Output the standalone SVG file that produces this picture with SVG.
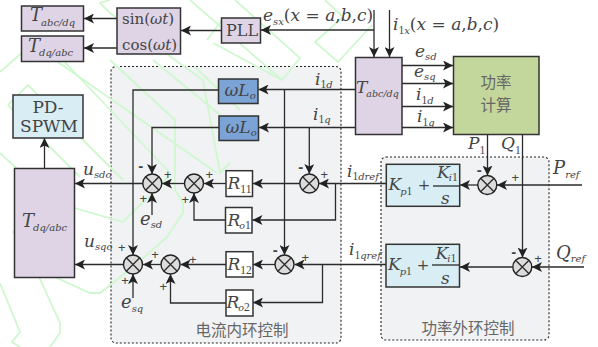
<svg xmlns="http://www.w3.org/2000/svg" width="598" height="347" viewBox="0 0 598 347">
<style>
text{font-family:"DejaVu Serif","Liberation Serif",serif;fill:#444;font-size:16px}
.m{font-style:italic;font-size:17px}
.f{font-size:18px}
.n{font-style:normal}
.s{font-size:10px;font-style:italic}
.d{font-size:11.500px;font-style:normal;font-family:"Liberation Serif",serif}
.p{font-size:13px;font-family:"Liberation Sans",sans-serif;text-anchor:middle}
.h{font-size:15px;font-weight:bold;font-family:"Liberation Sans",sans-serif;text-anchor:middle}
.c{font-family:"Noto Sans CJK SC",sans-serif;fill:#666;font-size:15.500px;text-anchor:middle}
.b{stroke:#333;stroke-width:1.500}
.pu{fill:#ded4e6}.bl{fill:#7ba3d6}.cy{fill:#d8edf4}.gr{fill:#c3d69b}.wh{fill:#fff}
.z{fill:#f1f2f4;stroke:#222;stroke-width:1.100;stroke-dasharray:2 2}
.l{fill:none;stroke:#2b2b2b;stroke-width:1.300}
.sum{fill:#dcdcdc;stroke:#222;stroke-width:1.400}
.wm{fill:none;stroke:#cff8cf;stroke-width:1.800}
</style>
<defs>
<marker id="a" markerUnits="userSpaceOnUse" markerWidth="11" markerHeight="10" refX="10" refY="5" orient="auto"><path d="M0 0L10 5L0 10L2.500 5Z" fill="#222"/></marker>
<g id="x"><circle class="sum" r="9.500"/><path class="l" d="M-6.700 -6.700L6.700 6.700M-6.700 6.700L6.700 -6.700"/></g>
</defs>
<g id="zones">
<rect class="z" x="111" y="66.500" width="230" height="276.500" rx="5"/>
<rect class="z" x="381" y="157" width="168" height="183" rx="5"/>
</g>
<g id="watermark">
<path class="wm" d="M0 72L25 50M60 57L170 173"/>
<path class="wm" d="M110 0L100 3L110 13L203 80L220 173L230 163"/>
<path class="wm" d="M190 0L282 80L300 58L235 0"/>
<path class="wm" d="M207 40L222 20M213 43L282 80"/>
<path class="wm" d="M372 25L338 62L315 42L343 17L325 0"/>
<path class="wm" d="M55 60L217 173"/>
<path class="wm" d="M110 60L175 120L175 190L183 203L183 213L167 237L133 267L100 293L90 293L35 268L60 323L60 333L50 347"/>
<path class="wm" d="M8 105L28 85L123 180M8 105L80 177"/>
<path class="wm" d="M153 60L230 123M195 67L240 110"/>
<path class="wm" d="M0 153L43 193M43 207L13 232L22 243L43 230M47 200L123 222L170 175"/>
<path class="wm" d="M0 283L20 332L12 342L20 347"/>
</g>
<g id="connectors">
<path class="l" marker-end="url(#a)" d="M117 18.500H84"/>
<path class="l" marker-end="url(#a)" d="M117 48H84"/>
<path class="l" marker-end="url(#a)" d="M221.500 30.500H181"/>
<path class="l" marker-end="url(#a)" d="M374 30H261"/>
<path class="l" marker-end="url(#a)" d="M374 10V57"/>
<path class="l" marker-end="url(#a)" d="M389.500 10V57"/>
<path class="l" marker-end="url(#a)" d="M402 65.500H453"/>
<path class="l" marker-end="url(#a)" d="M402 83.500H453"/>
<path class="l" marker-end="url(#a)" d="M402 106.500H453"/>
<path class="l" marker-end="url(#a)" d="M402 127.500H453"/>
<path class="l" marker-end="url(#a)" d="M355.500 89.500H258.500"/>
<path class="l" marker-end="url(#a)" d="M355.500 127.500H259"/>
<path class="l" marker-end="url(#a)" d="M218.500 90H133V255"/>
<path class="l" marker-end="url(#a)" d="M219 127.500H152V174"/>
<path class="l" marker-end="url(#a)" d="M284.500 90V255"/>
<path class="l" marker-end="url(#a)" d="M309.300 127.500V174"/>
<path class="l" marker-end="url(#a)" d="M44.500 168V138"/>
<path class="l" marker-end="url(#a)" d="M143 183.500H75"/>
<path class="l" marker-end="url(#a)" d="M123.500 264.500H75"/>
<path class="l" marker-end="url(#a)" d="M152 215V193"/>
<path class="l" marker-end="url(#a)" d="M133 298V274"/>
<path class="l" marker-end="url(#a)" d="M184.500 183.500H162"/>
<path class="l" marker-end="url(#a)" d="M226 183.500H204"/>
<path class="l" marker-end="url(#a)" d="M225.500 220H194V193"/>
<path class="l" marker-end="url(#a)" d="M299.800 183.500H253"/>
<path class="l" marker-end="url(#a)" d="M386 183.500H319"/>
<path class="l" marker-end="url(#a)" d="M335.500 183.500V220H252.500"/>
<path class="l" marker-end="url(#a)" d="M161 264.500H143"/>
<path class="l" marker-end="url(#a)" d="M226 264.500H180.500"/>
<path class="l" marker-end="url(#a)" d="M226 303H170.500V274"/>
<path class="l" marker-end="url(#a)" d="M275 264.500H253"/>
<path class="l" marker-end="url(#a)" d="M386 264.500H294.500"/>
<path class="l" marker-end="url(#a)" d="M322.500 264.500V302.500H253"/>
<path class="l" marker-end="url(#a)" d="M487.500 134.500V175.500"/>
<path class="l" marker-end="url(#a)" d="M522.500 134.500V257.500"/>
<path class="l" marker-end="url(#a)" d="M582 185H497"/>
<path class="l" marker-end="url(#a)" d="M478 185H460"/>
<path class="l" marker-end="url(#a)" d="M584 267H532"/>
<path class="l" marker-end="url(#a)" d="M512.500 267H460"/>
</g>
<g id="n1"><rect class="b pu" x="21.500" y="6" width="62" height="25"/><text class="m f" x="30" y="21">T<tspan class="s" dy="5" dx="-1">abc/dq</tspan></text></g>
<g id="n2"><rect class="b pu" x="21.500" y="36" width="62" height="25.500"/><text class="m f" x="28" y="52">T<tspan class="s" dy="4" dx="-1">dq/abc</tspan></text></g>
<g id="n3"><rect class="b pu" x="117" y="8" width="63.500" height="46"/><text x="122" y="24" style="font-size:15px">sin(<tspan class="m" style="font-size:15px">ωt</tspan>)</text><text x="122" y="50" style="font-size:15px">cos(<tspan class="m" style="font-size:15px">ωt</tspan>)</text></g>
<g id="n4"><rect class="b pu" x="221.500" y="18" width="39" height="25"/><text x="226" y="36">PLL</text></g>
<g id="n5"><rect class="b pu" x="355.500" y="57.500" width="46.500" height="77"/><text class="m" x="356" y="92.500">T<tspan class="s" dy="4.500" dx="-1" style="font-size:9.500px">abc/dq</tspan></text></g>
<g id="n6"><rect class="b gr" x="453.500" y="56.500" width="85.500" height="78"/><text class="c" x="496" y="88">功率</text><text class="c" x="496" y="111">计算</text></g>
<g id="n7"><rect class="b bl" x="218.500" y="79" width="39.500" height="24.500"/><text class="m" x="224.500" y="95.500">ωL<tspan class="s" dy="3">o</tspan></text></g>
<g id="n8"><rect class="b bl" x="219" y="116" width="39.500" height="24.500"/><text class="m" x="225.500" y="132.500">ωL<tspan class="s" dy="3">o</tspan></text></g>
<g id="n9"><rect class="b cy" x="13" y="95" width="70" height="43"/><text x="48" y="113" text-anchor="middle" style="font-size:17px">PD-</text><text x="49" y="132" text-anchor="middle" style="font-size:17px">SPWM</text></g>
<g id="n10"><rect class="b pu" x="14.500" y="168.500" width="60" height="109"/><text class="m f" x="22" y="227">T<tspan class="s" dy="4" dx="-1">dq/abc</tspan></text></g>
<g id="n11"><rect class="b wh" x="226" y="170.700" width="26.500" height="25.800"/><text class="m" x="227.500" y="188.500">R<tspan class="d" dy="4">11</tspan></text></g>
<g id="n12"><rect class="b wh" x="225.500" y="207.500" width="26.500" height="25.500"/><text class="m" x="227.500" y="225.500">R<tspan class="s" dy="3" dx="-1" style="font-size:9.500px">o</tspan><tspan class="d">1</tspan></text></g>
<g id="n13"><rect class="b wh" x="226" y="251.700" width="27" height="25.300"/><text class="m" x="227.500" y="269.500">R<tspan class="d" dy="4">12</tspan></text></g>
<g id="n14"><rect class="b wh" x="226" y="290" width="27" height="26"/><text class="m" x="226.500" y="308">R<tspan class="s" dy="3" dx="-1" style="font-size:9.500px">o</tspan><tspan class="d">2</tspan></text></g>
<g id="n15"><rect class="b cy" x="386.300" y="164.300" width="73.400" height="42"/><text class="m" x="388.500" y="190">K<tspan class="s" dy="5" dx="-1">p</tspan><tspan class="d">1</tspan></text><text x="424" y="190" text-anchor="middle" style="font-size:15px">+</text><text class="m" x="437" y="178">K<tspan class="s" dy="3" dx="-1">i</tspan><tspan class="d">1</tspan></text><text class="m" x="441" y="204">s</text><path class="l" d="M433 186H460"/></g>
<g id="n16"><rect class="b cy" x="386" y="244.300" width="73.500" height="42.700"/><text class="m" x="388" y="270">K<tspan class="s" dy="5" dx="-1">p</tspan><tspan class="d">1</tspan></text><text x="423" y="270" text-anchor="middle" style="font-size:15px">+</text><text class="m" x="435.500" y="259">K<tspan class="s" dy="3" dx="-1">i</tspan><tspan class="d">1</tspan></text><text class="m" x="441" y="284">s</text><path class="l" d="M432 265H459"/></g>
<g id="s1"><use href="#x" x="152.300" y="183.500"/></g>
<g id="s2"><use href="#x" x="194" y="183.500"/></g>
<g id="s3"><use href="#x" x="309.300" y="183.500"/></g>
<g id="s4"><use href="#x" x="133" y="264.500"/></g>
<g id="s5"><use href="#x" x="170.500" y="264.500"/></g>
<g id="s6"><use href="#x" x="284.500" y="264.500"/></g>
<g id="s7"><use href="#x" x="487.300" y="185"/></g>
<g id="s8"><use href="#x" x="522.300" y="267"/></g>
<g id="labels">
<text class="m" x="263" y="21">e<tspan class="s" dy="4">sx</tspan><tspan dy="-4" class="n">(</tspan>x<tspan class="n"> = </tspan>a<tspan class="n">,</tspan>b<tspan class="n">,</tspan>c<tspan class="n">)</tspan></text>
<text class="m" x="393" y="30">i<tspan class="d" dy="4">1</tspan><tspan class="s">x</tspan><tspan dy="-4" class="n">(</tspan>x<tspan class="n"> = </tspan>a<tspan class="n">,</tspan>b<tspan class="n">,</tspan>c<tspan class="n">)</tspan></text>
<text class="m" x="415" y="57">e<tspan class="s" dy="3">sd</tspan></text>
<text class="m" x="414" y="77">e<tspan class="s" dy="3">sq</tspan></text>
<text class="m" x="416" y="100">i<tspan class="d" dy="4">1</tspan><tspan class="s">d</tspan></text>
<text class="m" x="417" y="122">i<tspan class="d" dy="4">1</tspan><tspan class="s">q</tspan></text>
<text class="m" x="315" y="85">i<tspan class="d" dy="3">1</tspan><tspan class="s">d</tspan></text>
<text class="m" x="313" y="120">i<tspan class="d" dy="3">1</tspan><tspan class="s">q</tspan></text>
<text class="m" x="468" y="149">P<tspan class="d" dy="5">1</tspan></text>
<text class="m" x="501" y="149">Q<tspan class="d" dy="5">1</tspan></text>
<text class="m f" x="553" y="174">P<tspan class="s" dy="4">ref</tspan></text>
<text class="m f" x="556" y="259">Q<tspan class="s" dy="3">ref</tspan></text>
<text class="m" x="347" y="177">i<tspan class="d" dy="3">1</tspan><tspan class="s">dref</tspan></text>
<text class="m" x="349" y="255">i<tspan class="d" dy="4">1</tspan><tspan class="s">qref</tspan></text>
<text class="m" x="83" y="175">u<tspan class="s" dy="3">sdo</tspan></text>
<text class="m" x="84" y="247">u<tspan class="s" dy="3">sqo</tspan></text>
<text class="m f" x="140" y="225">e<tspan class="s" dy="3">sd</tspan></text>
<text class="m f" x="121" y="308">e<tspan class="s" dy="4">sq</tspan></text>
<text class="c" x="242" y="336">电流内环控制</text>
<text class="c" x="468" y="334">功率外环控制</text>
<text class="h" x="140.700" y="171">-</text><text class="p" x="167.700" y="178.500">+</text><text class="p" x="143.300" y="202.500">+</text>
<text class="p" x="209.300" y="179">+</text><text class="p" x="185.300" y="203.500">+</text>
<text class="h" x="300.700" y="172">-</text><text class="p" x="324.300" y="179">+</text>
<text class="p" x="121.700" y="252">+</text><text class="p" x="155" y="259">+</text><text class="p" x="125" y="284.500">+</text>
<text class="p" x="192.700" y="264">+</text><text class="p" x="163.300" y="290.500">+</text>
<text class="h" x="275.300" y="255">-</text><text class="p" x="305.300" y="261.500">+</text>
<text class="h" x="479.300" y="175">-</text><text class="p" x="515.300" y="181.500">+</text>
<text class="h" x="513.700" y="257">-</text><text class="p" x="538" y="263">+</text>
</g>
</svg>
